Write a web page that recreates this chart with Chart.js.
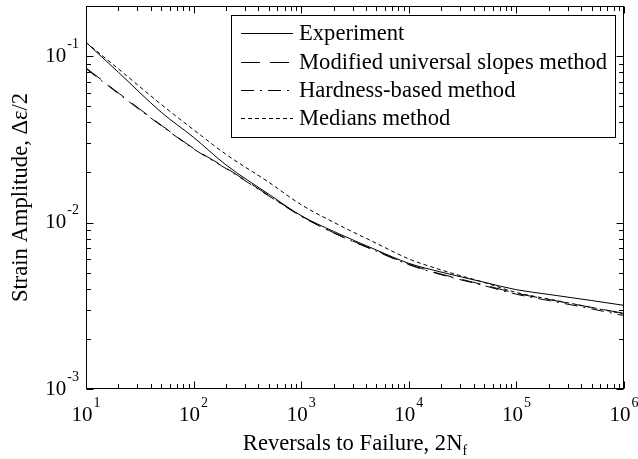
<!DOCTYPE html>
<html>
<head>
<meta charset="utf-8">
<script src="https://cdn.jsdelivr.net/npm/chart.js@4.4.0/dist/chart.umd.min.js"></script>
<style>
  html, body { margin: 0; padding: 0; background: #fff; }
  #wrap { width: 638px; height: 459px; position: relative; }
</style>
</head>
<body>
<div id="wrap"><canvas id="fatigueChart"></canvas></div>
<script>
// Données (log-log)
const reversals = [10, 20, 50, 100, 200, 500, 1e3, 2e3, 5e3, 1e4, 2e4, 5e4, 1e5, 2e5, 5e5, 1e6];
const experiment = [0.121, 0.080, 0.046, 0.0325, 0.0222, 0.0148, 0.0110, 0.00885, 0.00684, 0.00569, 0.00504, 0.00438, 0.00395, 0.00370, 0.00340, 0.00318];
const modifiedUniversalSlopes = [0.085, 0.0601, 0.0385, 0.0279, 0.0213, 0.01455, 0.01096, 0.0087, 0.00676, 0.00562, 0.0049, 0.00422, 0.00376, 0.00345, 0.00309, 0.00285];
const hardnessBased = [0.084, 0.0595, 0.0382, 0.0277, 0.0211, 0.01445, 0.0109, 0.00866, 0.00672, 0.00558, 0.00486, 0.00418, 0.00371, 0.00340, 0.00303, 0.00276];
const mediansMethod = [0.121, 0.0838, 0.0513, 0.0361, 0.0257, 0.01746, 0.0128, 0.01004, 0.0075, 0.00605, 0.00519, 0.00437, 0.0038, 0.00347, 0.00309, 0.00282];
const seriesLabels = ['Experiment', 'Modified universal slopes method', 'Hardness-based method', 'Medians method'];
const xTickExponents = [1, 2, 3, 4, 5, 6];
const yTickExponents = [-3, -2, -1];

const SERIF = '"Liberation Serif", "Times New Roman", serif';

function toPoints(values) {
    return reversals.map(function (x, i) { return { x: x, y: values[i] }; });
}

function makeDataset(label, values, dash) {
    return {
        label: label,
        data: toPoints(values),
        showLine: true,
        borderColor: '#000',
        borderWidth: 1,
        borderDash: dash,
        pointRadius: 0,
        cubicInterpolationMode: 'monotone',
        fill: false
    };
}

// Cadre, graduations vers l'intérieur, libellés et légende
const framePlugin = {
    id: 'frame',
    afterDraw: function (chart) {
        const ctx = chart.ctx;
        const area = chart.chartArea;
        const xs = chart.scales.x;
        const ys = chart.scales.y;
        const L = Math.round(area.left) + 0.5, R = Math.round(area.right) - 0.5;
        const T = Math.round(area.top) + 0.5, B = Math.round(area.bottom) - 0.5;

        ctx.save();
        ctx.strokeStyle = '#000';
        ctx.lineWidth = 1;
        ctx.strokeRect(L, T, R - L, B - T);

        // graduations X
        ctx.beginPath();
        for (let e = xTickExponents[0]; e <= xTickExponents[xTickExponents.length - 1]; e++) {
            for (let m = 1; m <= 9; m++) {
                const v = m * Math.pow(10, e);
                if (v > xs.max * 1.0001) break;
                const px = Math.round(xs.getPixelForValue(v)) + 0.5;
                const len = m === 1 ? 7 : 4.5;
                ctx.moveTo(px, B); ctx.lineTo(px, B - len);
                ctx.moveTo(px, T); ctx.lineTo(px, T + len);
            }
        }
        // graduations Y
        for (let e = yTickExponents[0]; e <= 0; e++) {
            for (let m = 1; m <= 9; m++) {
                const v = m * Math.pow(10, e);
                if (v > ys.max * 1.0001) break;
                const py = Math.round(ys.getPixelForValue(v)) + 0.5;
                const len = m === 1 ? 7 : 4.5;
                ctx.moveTo(L, py); ctx.lineTo(L + len, py);
                ctx.moveTo(R, py); ctx.lineTo(R - len, py);
            }
        }
        ctx.stroke();

        ctx.fillStyle = '#000';
        ctx.textBaseline = 'middle';

        // libellés X : 10^n
        xTickExponents.forEach(function (e) {
            const px = xs.getPixelForValue(Math.pow(10, e));
            ctx.font = '21px ' + SERIF;
            const wBase = ctx.measureText('10').width;
            ctx.font = '14px ' + SERIF;
            const wExp = ctx.measureText(String(e)).width;
            const start = px - (wBase + 1 + wExp) / 2;
            ctx.textAlign = 'left';
            ctx.font = '21px ' + SERIF;
            ctx.fillText('10', start, 415);
            ctx.font = '14px ' + SERIF;
            ctx.fillText(String(e), start + wBase + 1, 403);
        });

        // libellés Y : 10^n
        yTickExponents.forEach(function (e) {
            const py = ys.getPixelForValue(Math.pow(10, e));
            ctx.font = '14px ' + SERIF;
            const wExp = ctx.measureText(String(e)).width;
            const right = area.left - 7;
            ctx.textAlign = 'left';
            ctx.fillText(String(e), right - wExp, py - 12);
            ctx.font = '21px ' + SERIF;
            const wBase = ctx.measureText('10').width;
            ctx.fillText('10', right - wExp - 1 - wBase, py);
        });

        // titre X avec indice
        const xt = 'Reversals to Failure, 2N';
        ctx.font = '22.6px ' + SERIF;
        const wT = ctx.measureText(xt).width;
        ctx.font = '14px ' + SERIF;
        const wSub = ctx.measureText('f').width;
        const cx = (area.left + area.right) / 2;
        const sx = cx - (wT + wSub) / 2;
        ctx.textAlign = 'left';
        ctx.textBaseline = 'alphabetic';
        ctx.font = '22.6px ' + SERIF;
        ctx.fillText(xt, sx, 450);
        ctx.font = '14px ' + SERIF;
        ctx.fillText('f', sx + wT, 455);

        // titre Y
        ctx.save();
        ctx.translate(27, (area.top + area.bottom) / 2);
        ctx.rotate(-Math.PI / 2);
        ctx.textAlign = 'center';
        ctx.font = '22.6px ' + SERIF;
        ctx.fillText('Strain Amplitude, \u0394\u03b5/2', 0, 0);
        ctx.restore();

        // légende
        const box = { left: 231.5, top: 15.5, right: 615.5, bottom: 137.5 };
        ctx.fillStyle = '#fff';
        ctx.fillRect(box.left, box.top, box.right - box.left, box.bottom - box.top);
        ctx.strokeRect(box.left, box.top, box.right - box.left, box.bottom - box.top);
        const rowY = [33, 62, 90, 118];
        ctx.textBaseline = 'middle';
        chart.data.datasets.forEach(function (ds, i) {
            const y = rowY[i] + 0.5;
            ctx.beginPath();
            ctx.setLineDash(ds.borderDash || []);
            ctx.moveTo(241, y); ctx.lineTo(293, y);
            ctx.stroke();
            ctx.setLineDash([]);
            ctx.fillStyle = '#000';
            ctx.font = '22.6px ' + SERIF;
            ctx.fillText(ds.label, 299, rowY[i] + 1);
        });
        ctx.restore();
    }
};

function initChart() {
    const ctx = document.getElementById('fatigueChart');
    new Chart(ctx, {
        type: 'scatter',
        data: {
            datasets: [
                makeDataset(seriesLabels[0], experiment, []),
                makeDataset(seriesLabels[1], modifiedUniversalSlopes, [19, 10]),
                makeDataset(seriesLabels[2], hardnessBased, [13, 6, 2, 6]),
                makeDataset(seriesLabels[3], mediansMethod, [4, 3])
            ]
        },
        options: {
            responsive: true,
            maintainAspectRatio: false,
            animation: false,
            layout: { padding: { left: 86, right: 14, top: 6, bottom: 70 } },
            scales: {
                x: { type: 'logarithmic', min: 10, max: 1e6, display: false },
                y: { type: 'logarithmic', min: 0.001, max: 0.2, display: false }
            },
            plugins: {
                legend: { display: false },
                tooltip: { enabled: false }
            }
        },
        plugins: [framePlugin]
    });
}

document.addEventListener('DOMContentLoaded', function () {
    initChart();
});
</script>
</body>
</html>
